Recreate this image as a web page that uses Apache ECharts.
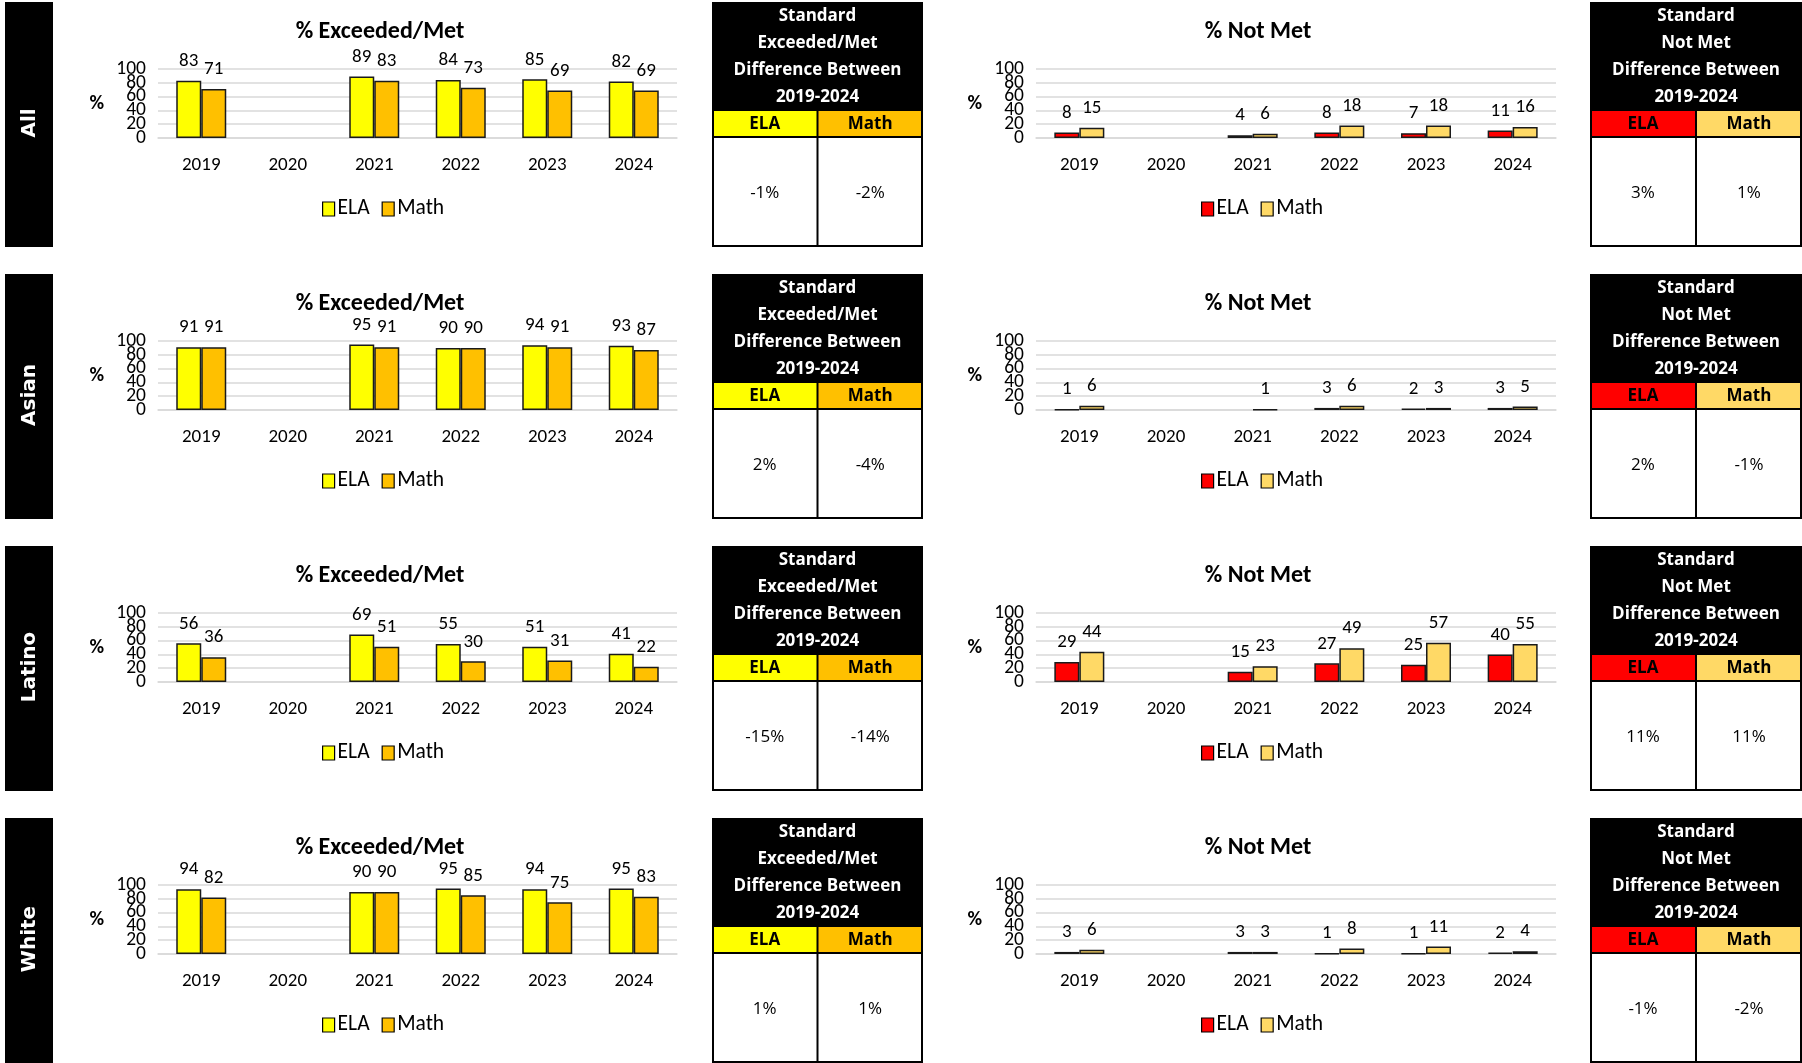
<!DOCTYPE html>
<html><head><meta charset="utf-8">
<script src="https://cdn.jsdelivr.net/npm/echarts@6/dist/echarts.min.js"></script>
<style>html,body{margin:0;padding:0;background:#fff}#c{width:1802px;height:1063px}</style>
</head><body><div id="c"></div><script>
// ---------- data ----------
const years = ['2019', '2020', '2021', '2022', '2023', '2024'];
const groups = ['All', 'Asian', 'Latino', 'White'];
const yTicks = [0, 20, 40, 60, 80, 100];

const allExceededELA   = [83, null, 89, 84, 85, 82];
const allExceededMath  = [71, null, 83, 73, 69, 69];
const allNotMetELA     = [8, null, 4, 8, 7, 11];
const allNotMetMath    = [15, null, 6, 18, 18, 16];

const asianExceededELA  = [91, null, 95, 90, 94, 93];
const asianExceededMath = [91, null, 91, 90, 91, 87];
const asianNotMetELA    = [1, null, null, 3, 2, 3];
const asianNotMetMath   = [6, null, 1, 6, 3, 5];

const latinoExceededELA  = [56, null, 69, 55, 51, 41];
const latinoExceededMath = [36, null, 51, 30, 31, 22];
const latinoNotMetELA    = [29, null, 15, 27, 25, 40];
const latinoNotMetMath   = [44, null, 23, 49, 57, 55];

const whiteExceededELA  = [94, null, 90, 95, 94, 95];
const whiteExceededMath = [82, null, 90, 85, 75, 83];
const whiteNotMetELA    = [3, null, 3, 1, 1, 2];
const whiteNotMetMath   = [6, null, 3, 8, 11, 4];

const exceededDiffELA  = ['-1%', '2%', '-15%', '1%'];
const exceededDiffMath = ['-2%', '-4%', '-14%', '1%'];
const notMetDiffELA    = ['3%', '2%', '11%', '-1%'];
const notMetDiffMath   = ['1%', '-1%', '11%', '-2%'];

const exceededHeader = ['Standard', 'Exceeded/Met', 'Difference Between', '2019-2024'];
const notMetHeader   = ['Standard', 'Not Met', 'Difference Between', '2019-2024'];

// ---------- styling ----------
const FONT  = "Carlito, 'Liberation Sans Narrow', 'Liberation Sans', Arial, sans-serif";
const TFONT = "'Open Sans', 'Noto Sans', sans-serif";
const LFONT = "'DejaVu Sans', Verdana, sans-serif";
const C = { exE: '#FFFF00', exM: '#FFC000', nmE: '#FF0000', nmM: '#FFD966' };
const ROW = 272;

const rowsData = [
  [allExceededELA, allExceededMath, allNotMetELA, allNotMetMath],
  [asianExceededELA, asianExceededMath, asianNotMetELA, asianNotMetMath],
  [latinoExceededELA, latinoExceededMath, latinoNotMetELA, latinoNotMetMath],
  [whiteExceededELA, whiteExceededMath, whiteNotMetELA, whiteNotMetMath]
];

const option = {
  backgroundColor: '#fff', animation: false,
  textStyle: { fontFamily: FONT },
  title: [], legend: [], grid: [], xAxis: [], yAxis: [], series: [], graphic: []
};

const yLabelStyle = { fontFamily: FONT, fontSize: 19.5, color: '#000', margin: 12 };

function addChart(oy, left, width, titleText, titleCx, legendLeft, names, colors, dE, dM) {
  const gi = option.grid.length;
  option.grid.push({ left: left, top: oy + 69, width: width, height: 69, containLabel: false });
  option.title.push({
    text: titleText, left: titleCx, top: oy + 15, textAlign: 'center',
    textStyle: { fontFamily: FONT, fontSize: 24, fontWeight: 'bold', color: '#000' }
  });
  option.xAxis.push({
    type: 'category', gridIndex: gi, data: years,
    axisLine: { lineStyle: { color: '#d9d9d9', width: 1.5 } },
    axisTick: { show: false },
    axisLabel: { fontFamily: FONT, fontSize: 19, color: '#000', margin: 18 }
  });
  const yMin = yTicks[0], yMax = yTicks[yTicks.length - 1];
  // main value axis: grid lines + inner tick labels (20..80)
  const yi = option.yAxis.length;
  option.yAxis.push({
    type: 'value', gridIndex: gi, min: yMin, max: yMax, interval: yTicks[1] - yTicks[0],
    name: '%', nameLocation: 'middle', nameRotate: 0, nameGap: 54,
    nameTextStyle: { fontFamily: FONT, fontSize: 20, fontWeight: 'bold', color: '#000' },
    axisLine: { show: false }, axisTick: { show: false },
    axisLabel: Object.assign({ showMinLabel: false, showMaxLabel: false }, yLabelStyle),
    splitLine: { lineStyle: { color: '#d9d9d9', width: 1.5 } }
  });
  // companion axis on the same scale carrying the end labels (0 and 100)
  option.yAxis.push({
    type: 'value', gridIndex: gi, min: yMin, max: yMax, interval: yMax - yMin, position: 'left',
    axisLine: { show: false }, axisTick: { show: false }, splitLine: { show: false },
    axisLabel: Object.assign({ showMinLabel: true, showMaxLabel: true }, yLabelStyle)
  });
  const mk = (name, color, data) => ({
    type: 'bar', name: name, xAxisIndex: gi, yAxisIndex: yi, data: data,
    barWidth: 25, barGap: '0%',
    itemStyle: { color: color, borderColor: '#1a1a1a', borderWidth: 1.5 },
    label: { show: true, position: 'top', distance: 10, fontFamily: FONT, fontSize: 19, color: '#000' }
  });
  option.series.push(mk(names[0], colors[0], dE), mk(names[1], colors[1], dM));
  option.legend.push({
    data: names, left: legendLeft, top: oy + 193, orient: 'horizontal',
    icon: 'rect', itemWidth: 12, itemHeight: 14, itemGap: 12,
    itemStyle: { borderColor: '#000', borderWidth: 1.2 },
    formatter: (n) => n.split(' ')[0],
    textStyle: { fontFamily: FONT, fontSize: 21.5, color: '#000', padding: [0, 0, 0, -2] },
    selectedMode: false
  });
}

function addTable(oy, x, w, header, cE, cM, vE, vM) {
  const g = option.graphic;
  const half = w / 2;
  g.push({ type: 'rect', shape: { x: x, y: oy + 2, width: w, height: 109 }, style: { fill: '#000' } });
  header.forEach((t, i) => g.push({
    type: 'text', x: x + half, y: oy + 16 + i * 27,
    style: { text: t, fill: '#fff', font: "bold 17px " + TFONT, align: 'center', verticalAlign: 'middle' }
  }));
  g.push({ type: 'rect', shape: { x: x, y: oy + 111, width: half, height: 26 }, style: { fill: cE } });
  g.push({ type: 'rect', shape: { x: x + half, y: oy + 111, width: w - half, height: 26 }, style: { fill: cM } });
  g.push({ type: 'text', x: x + half / 2, y: oy + 124, style: { text: 'ELA', fill: '#000', font: "bold 17px " + TFONT, align: 'center', verticalAlign: 'middle' } });
  g.push({ type: 'text', x: x + half + half / 2, y: oy + 124, style: { text: 'Math', fill: '#000', font: "bold 17px " + TFONT, align: 'center', verticalAlign: 'middle' } });
  g.push({ type: 'rect', shape: { x: x, y: oy + 137, width: w, height: 110 }, style: { fill: '#fff' } });
  g.push({ type: 'line', shape: { x1: x, y1: oy + 137, x2: x + w, y2: oy + 137 }, style: { stroke: '#000', lineWidth: 2 } });
  g.push({ type: 'line', shape: { x1: x + half, y1: oy + 111, x2: x + half, y2: oy + 247 }, style: { stroke: '#000', lineWidth: 2 } });
  g.push({ type: 'rect', shape: { x: x + 1, y: oy + 3, width: w - 2, height: 243 }, style: { fill: 'none', stroke: '#000', lineWidth: 2 } });
  g.push({ type: 'text', x: x + half / 2, y: oy + 193, style: { text: vE, fill: '#000', font: "17px " + TFONT, align: 'center', verticalAlign: 'middle' } });
  g.push({ type: 'text', x: x + half + half / 2, y: oy + 193, style: { text: vM, fill: '#000', font: "17px " + TFONT, align: 'center', verticalAlign: 'middle' } });
}

groups.forEach((grp, r) => {
  const oy = r * ROW;
  const d = rowsData[r];
  option.graphic.push({ type: 'rect', shape: { x: 5, y: oy + 2, width: 48, height: 245 }, style: { fill: '#000' } });
  option.graphic.push({
    type: 'text', x: 30, y: oy + 123, rotation: Math.PI / 2,
    style: { text: grp, fill: '#fff', font: "bold 20px " + LFONT, align: 'center', verticalAlign: 'middle' }
  });
  addChart(oy, 158, 519, '% Exceeded/Met', 375, 317, ['ELA', 'Math'], [C.exE, C.exM], d[0], d[1]);
  addChart(oy, 1036, 520, '% Not Met', 1253, 1196, ['ELA NotMet', 'Math NotMet'], [C.nmE, C.nmM], d[2], d[3]);
  addTable(oy, 712, 211, exceededHeader, C.exE, C.exM, exceededDiffELA[r], exceededDiffMath[r]);
  addTable(oy, 1590, 212, notMetHeader, C.nmE, C.nmM, notMetDiffELA[r], notMetDiffMath[r]);
});

const chart = echarts.init(document.getElementById('c'), null, { renderer: 'canvas' });
chart.setOption(option);
</script></body></html>
